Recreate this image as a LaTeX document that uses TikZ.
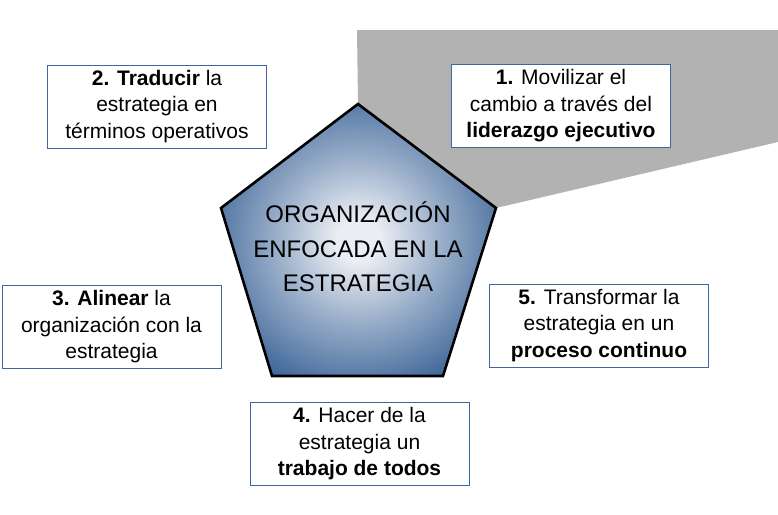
\documentclass[tikz,border=0pt]{standalone}
\usepackage{fontspec}
\setmainfont{Liberation Sans}
\usepackage{tikz}
\usetikzlibrary{positioning}

\definecolor{boxblue}{RGB}{60,104,160}
\definecolor{pentblue}{RGB}{56,98,150}
\definecolor{pentlight}{RGB}{234,237,243}
\definecolor{bandgray}{RGB}{178,178,178}
\pgfdeclareradialshading{pentglow}{\pgfpoint{0bp}{0bp}}{%
    color(0bp)=(pentlight); color(4bp)=(pentlight);
    color(15bp)=(pentblue!45!pentlight); color(30bp)=(pentblue);
    color(50bp)=(pentblue)}

\begin{document}
\begin{tikzpicture}[x=1pt, y=-1pt,
            box/.style={
                draw=boxblue,
                line width=1pt,
                fill=white,
                align=center,
                inner sep=0pt,
                minimum width=219pt, minimum height=83pt,
                font=\fontsize{21}{26.5}\selectfont
            }]
            \useasboundingbox (0,0) rectangle (778,514);

            \coordinate (g-1) at (357,30);
            \coordinate (g-2) at (778,30);
            \coordinate (g-3) at (778,142);
            \coordinate (p-1) at (358,104);
            \coordinate (p-2) at (496,208);
            \coordinate (p-3) at (443,376);
            \coordinate (p-4) at (272,376);
            \coordinate (p-5) at (221,208);

            \fill[bandgray] (g-1) -- (g-2) -- (g-3) -- (p-2) -- (p-1) -- cycle;
            \shadedraw[shading=pentglow, draw=black, line width=2.6pt, line join=miter]
                (p-1) -- (p-2) -- (p-3) -- (p-4) -- (p-5) -- cycle;

            \node[align=center, font=\fontsize{24}{34.5}\selectfont] (centro) at (358,247)
                {ORGANIZACIÓN\\ENFOCADA EN LA\\ESTRATEGIA};

            \node[box] (b-1) at (561,106) {\textbf{1.} Movilizar el\\cambio a través del\\\textbf{liderazgo ejecutivo}};
            \node[box] (b-2) at (157,106.5) {\textbf{2. Traducir} la\\estrategia en\\términos operativos};
            \node[box] (b-3) at (111.5,327) {\textbf{3. Alinear} la\\organización con la\\estrategia};
            \node[box] (b-4) at (359.5,444) {\textbf{4.} Hacer de la\\estrategia un\\\textbf{trabajo de todos}};
            \node[box] (b-5) at (599,325.5) {\textbf{5.} Transformar la\\estrategia en un\\\textbf{proceso continuo}};

        \end{tikzpicture}
\end{document}
